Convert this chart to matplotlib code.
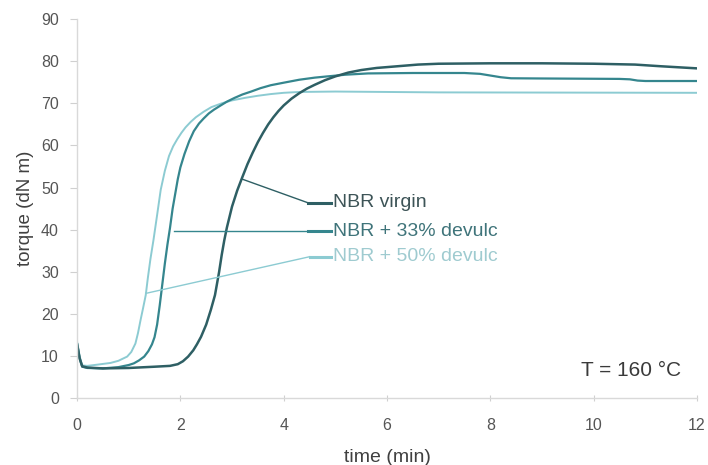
import numpy as np
import matplotlib.pyplot as plt

plt.rcParams['font.family'] = ['Liberation Sans', 'DejaVu Sans']

# cure curves: time (min), torque (dN m)
t_virgin = [0, 0.05, 0.1, 0.2, 0.5, 1.0, 1.5, 1.8, 1.95, 2.05, 2.15, 2.25, 2.32, 2.4,
            2.5, 2.59, 2.67, 2.75, 2.8, 2.85, 2.9, 3.0, 3.1, 3.2, 3.3, 3.4, 3.5, 3.6,
            3.7, 3.8, 3.9, 4.0, 4.15, 4.3, 4.45, 4.6, 4.8, 5.0, 5.25, 5.5, 5.8, 6.2,
            6.6, 7.0, 8.0, 9.0, 10.0, 10.8, 11.3, 12.0]
y_virgin = [13, 9.5, 7.6, 7.3, 7.1, 7.2, 7.5, 7.7, 8.1, 8.8, 9.9, 11.4, 12.8, 14.6,
            17.5, 21, 24.5, 30, 34, 37.5, 40.5, 45.5, 49.3, 52.5, 55.6, 58.3, 60.8, 63,
            65, 66.7, 68.2, 69.5, 71.1, 72.4, 73.5, 74.4, 75.5, 76.4, 77.3, 77.9, 78.4, 78.8,
            79.2, 79.4, 79.5, 79.5, 79.4, 79.2, 78.8, 78.3]

t_33 = [0, 0.05, 0.1, 0.2, 0.5, 0.8, 1.0, 1.1, 1.2, 1.3, 1.38, 1.45, 1.5, 1.55, 1.6,
        1.65, 1.7, 1.75, 1.8, 1.85, 1.9, 1.95, 2.0, 2.08, 2.17, 2.26, 2.36, 2.45, 2.55,
        2.65, 2.78, 2.9, 3.05, 3.2, 3.37, 3.55, 3.75, 4.0, 4.3, 4.6, 4.85, 5.2, 5.63,
        6.5, 7.5, 7.8, 8.0, 8.2, 8.4, 9.0, 10.5, 10.7, 10.85, 11.0, 12.0]
y_33 = [13, 9.5, 7.5, 7.2, 7.1, 7.4, 7.9, 8.3, 9.0, 9.9, 11.2, 12.8, 14.5, 17.5, 22,
        27, 32, 36.5, 40.5, 45, 48.5, 52, 54.8, 58, 61, 63.4, 65.2, 66.4, 67.6,
        68.5, 69.5, 70.4, 71.3, 72.1, 72.8, 73.6, 74.3, 74.9, 75.6, 76.1, 76.4, 76.8, 77.1,
        77.2, 77.2, 77.0, 76.6, 76.2, 75.95, 75.9, 75.8, 75.7, 75.4, 75.3, 75.3]

t_50 = [0, 0.05, 0.1, 0.2, 0.4, 0.65, 0.8, 0.97, 1.05, 1.13, 1.18, 1.23, 1.28, 1.33,
        1.37, 1.42, 1.48, 1.55, 1.62, 1.7, 1.78, 1.86, 1.94, 2.02, 2.1, 2.2, 2.3, 2.45,
        2.6, 2.8, 3.0, 3.25, 3.5, 3.75, 4.0, 4.3, 5.0, 7.0, 12.0]
y_50 = [13.5, 10, 7.8, 7.7, 8.0, 8.4, 8.9, 9.9, 11, 13, 15.5, 18.6, 21.5, 24.5,
        28.5, 33, 37.6, 43.5, 49.5, 54, 57.5, 59.8, 61.5, 63, 64.3, 65.6, 66.7, 68,
        69.1, 70, 70.7, 71.3, 71.8, 72.2, 72.5, 72.7, 72.8, 72.6, 72.5]

labels = ['NBR virgin', 'NBR + 33% devulc', 'NBR + 50% devulc']
line_colors = ['#2e5f64', '#35868e', '#8ccbd2']
text_colors = ['#3d5457', '#3f747a', '#9fcbd0']

# leader lines: point on curve, knee (then a short thick stub to the text)
leaders = [((3.2, 52.0), (4.47, 46.4)),
           ((1.88, 39.7), (4.47, 39.7)),
           ((1.33, 24.9), (4.5, 33.6))]

fig = plt.figure(figsize=(7.08, 4.65), dpi=100)
ax = fig.add_axes([0.1088, 0.1434, 0.8757, 0.8156])

series = [(t_virgin, y_virgin), (t_33, y_33), (t_50, y_50)]
widths = [1.8, 1.6, 1.4]
for (t, y), c, lw in zip(series[::-1], line_colors[::-1], widths[::-1]):
    ax.plot(t, y, color=c, lw=lw, solid_joinstyle='round', solid_capstyle='round')

for (p0, p1), c, tc, lab in zip(leaders, line_colors, text_colors, labels):
    ax.plot([p0[0], p1[0]], [p0[1], p1[1]], color=c, lw=1.0)
    ax.plot([p1[0], 4.92], [p1[1], p1[1]], color=c, lw=2.2)
    ax.text(4.95, p1[1], lab, color=tc, fontsize=14, va='center', ha='left')

ax.text(11.7, 6.7, 'T = 160 °C', color='#3a3a3a', fontsize=15, ha='right', va='center')

ax.set_xlim(0, 12)
ax.set_ylim(0, 90)
ax.set_xticks(np.arange(0, 13, 2))
ax.set_yticks(np.arange(0, 91, 10))
ax.set_xlabel('time (min)', fontsize=14, color='#404040', labelpad=11)
ax.set_ylabel('torque (dN m)', fontsize=13.5, color='#404040', labelpad=5)

for s in ['top', 'right']:
    ax.spines[s].set_visible(False)
for s in ['left', 'bottom']:
    ax.spines[s].set_color('#d9d9d9')
    ax.spines[s].set_linewidth(1.0)
ax.tick_params(axis='x', direction='inout', length=5, color='#d0d0d0',
               labelsize=11.5, labelcolor='#555555', pad=12)
ax.tick_params(axis='y', direction='out', length=5, color='#d0d0d0',
               labelsize=11.5, labelcolor='#555555', pad=8)

fig.savefig('out.png', dpi=100)
